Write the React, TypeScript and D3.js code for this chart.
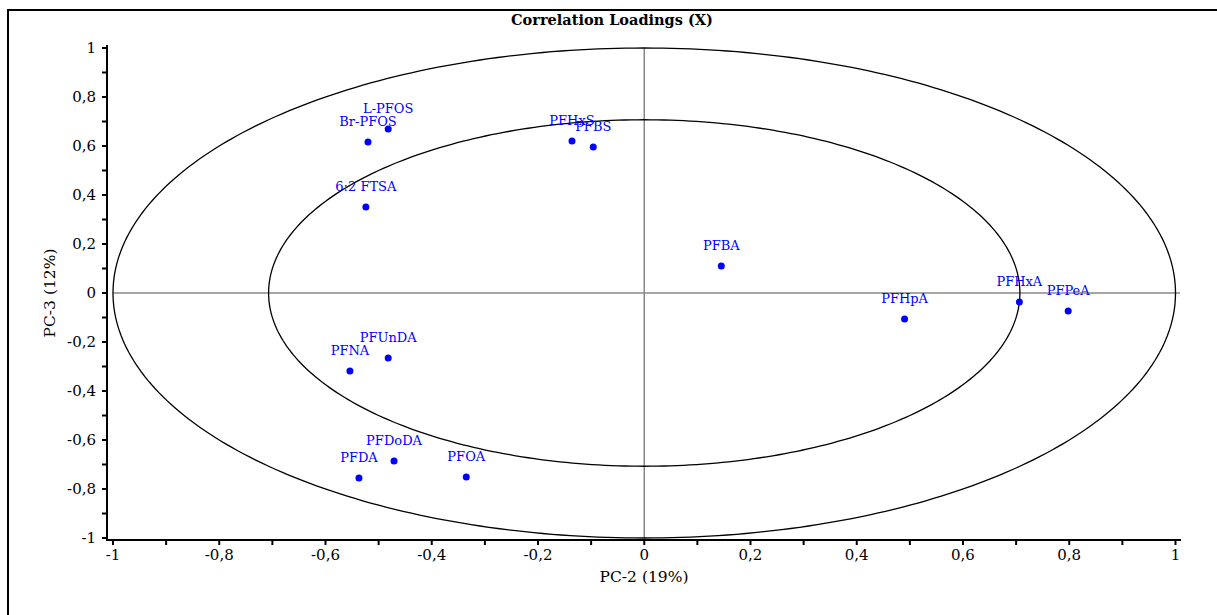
import React from "react";
import * as d3 from "d3";

const labels = ["Br-PFOS", "L-PFOS", "6:2 FTSA", "PFHxS", "PFBS", "PFBA", "PFHpA", "PFHxA", "PFPeA", "PFUnDA", "PFNA", "PFDoDA", "PFDA", "PFOA"];
const pc2 = [-0.52, -0.482, -0.524, -0.136, -0.096, 0.145, 0.49, 0.706, 0.798, -0.482, -0.554, -0.471, -0.537, -0.335];
const pc3 = [0.616, 0.669, 0.351, 0.62, 0.596, 0.11, -0.106, -0.037, -0.073, -0.265, -0.318, -0.686, -0.755, -0.751];
const majorTicks = [-1, -0.8, -0.6, -0.4, -0.2, 0, 0.2, 0.4, 0.6, 0.8, 1];
const minorTicks = [-0.9, -0.7, -0.5, -0.3, -0.1, 0.1, 0.3, 0.5, 0.7, 0.9];
const radii = [1, Math.SQRT1_2];

const W = 1217;
const H = 615;
const FONT = "'DejaVu Serif', serif";

const fmt = (v: number) => (v === 0 ? "0" : String(+v.toFixed(1)).replace(".", ","));

export default function App() {
  const x = d3.scaleLinear().domain([-1, 1]).range([113, 1175.5]);
  const y = d3.scaleLinear().domain([-1, 1]).range([538, 48]);
  const axisX = 107;
  const axisY = 540;
  const allTicks = majorTicks.concat(minorTicks);
  const ellipse = (r: number) => {
    const pts = d3.range(0, 361).map((a) => {
      const t = (a * Math.PI) / 180;
      return [x(r * Math.cos(t)), y(r * Math.sin(t))] as [number, number];
    });
    return d3.line()(pts) || "";
  };
  return (
    <svg width={W} height={H} style={{ position: "absolute", left: 0, top: 0 }} fontFamily={FONT}>
      <rect x={0} y={0} width={W} height={H} fill="#fff" />
      <path d={`M8,${H + 5} L8,10 L${W + 5},10`} fill="none" stroke="#000" strokeWidth={2} />
      <text x={612} y={25} textAnchor="middle" fontSize={14.5} fontWeight="bold" fill="#000">
        Correlation Loadings (X)
      </text>
      {/* crosshair */}
      <line x1={x(0)} x2={x(0)} y1={y(1)} y2={y(-1)} stroke="#888" strokeWidth={1.5} />
      <line x1={x(-1)} x2={axisX + 1073} y1={y(0)} y2={y(0)} stroke="#888" strokeWidth={1.5} />
      {radii.map((r) => (
        <path key={r} d={ellipse(r)} fill="none" stroke="#000" strokeWidth={1.3} />
      ))}
      {/* axes */}
      <line x1={axisX} x2={axisX} y1={45} y2={axisY + 1} stroke="#000" strokeWidth={2} />
      <line x1={axisX - 1} x2={1181} y1={axisY} y2={axisY} stroke="#000" strokeWidth={2} />
      {allTicks.map((t) => (
        <g key={"t" + t}>
          <line x1={axisX - 5} x2={axisX} y1={y(t)} y2={y(t)} stroke="#000" strokeWidth={2} />
          <line x1={x(t)} x2={x(t)} y1={axisY} y2={axisY + 5} stroke="#000" strokeWidth={2} />
        </g>
      ))}
      {majorTicks.map((t) => (
        <g key={"l" + t} fontSize={15} fill="#000">
          <text x={96} y={y(t) + 5} textAnchor="end">
            {fmt(t)}
          </text>
          <text x={x(t)} y={560} textAnchor="middle">
            {fmt(t)}
          </text>
        </g>
      ))}
      <text x={644} y={582} textAnchor="middle" fontSize={15.5} fill="#000">
        PC-2 (19%)
      </text>
      <text transform={`translate(55,${y(0)}) rotate(-90)`} textAnchor="middle" fontSize={15.5} fill="#000">
        PC-3 (12%)
      </text>
      {labels.map((lab, i) => (
        <g key={lab}>
          <circle cx={x(pc2[i])} cy={y(pc3[i])} r={3.5} fill="#0000ff" />
          <text x={x(pc2[i])} y={y(pc3[i]) - 16} textAnchor="middle" fontSize={13} fill="#0000ff">
            {lab}
          </text>
        </g>
      ))}
    </svg>
  );
}
